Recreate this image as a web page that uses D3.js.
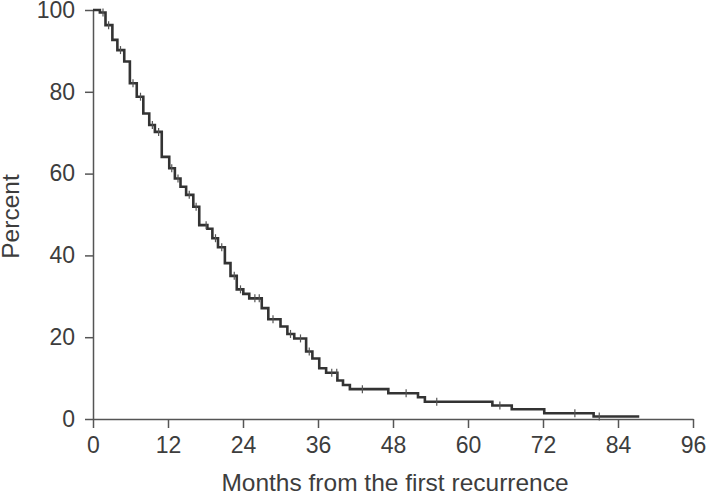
<!DOCTYPE html>
<html>
<head>
<meta charset="utf-8">
<script src="https://cdn.jsdelivr.net/npm/d3@7"></script>
<style>
  body { margin: 0; background: #fff; }
  .axis text { font-family: "Liberation Sans", Arial, sans-serif; font-size: 23px; fill: #3d3d3d; }
  .axis path, .axis line { stroke: #555; stroke-width: 1.5px; }
  .title { font-family: "Liberation Sans", Arial, sans-serif; font-size: 24.5px; fill: #3d3d3d; }
</style>
</head>
<body>
<svg class="chart"></svg>
<script>
// step times (months) and survival (%) after each step
var stepMonths = [0, 1.1, 2.0, 3.1, 3.9, 5.0, 5.9, 7.0, 8.05, 9.0, 9.9, 11.0, 12.2, 13.1, 14.0, 14.9,
    16.05, 17.0, 18.3, 19.1, 20.0, 21.1, 22.0, 23.0, 24.05, 25.0, 27.0, 28.05, 30.0, 31.1, 32.2,
    34.1, 35.1, 36.2, 37.3, 39.1, 40.0, 41.1, 47.25, 52.0, 53.1, 63.9, 67.0, 72.2, 80.1];
var stepPercent = [100, 99.4, 96.3, 92.7, 90.2, 87.4, 82.1, 78.8, 74.7, 71.9, 70.2, 64.1, 61.3, 58.8, 56.8, 54.8,
    51.9, 47.4, 46.5, 44.2, 42.0, 38.1, 35.0, 31.7, 30.6, 29.5, 27.1, 24.4, 22.6, 20.8, 19.7,
    16.5, 14.8, 12.4, 11.3, 9.4, 8.3, 7.3, 6.3, 5.3, 4.2, 3.3, 2.4, 1.4, 0.6];
var lastMonth = 87.4;

// censored observations (months)
var censorMonths = [1.6, 2.5, 4.4, 6.4, 7.6, 9.5, 10.5, 12.6, 13.6, 15.4, 16.5, 18.1, 19.6, 20.6,
    22.6, 23.6, 25.9, 26.6, 28.8, 31.6, 33.2, 34.6, 38.2, 39.0, 43.1, 50.1, 55.0, 65.1, 77.1, 81.0];

var xTicks = [0, 12, 24, 36, 48, 60, 72, 84, 96];
var yTicks = [0, 20, 40, 60, 80, 100];

var width = 708;
var height = 495;
var margin = {left: 93, right: 15, top: 10, bottom: 76};

var chart = d3.select(".chart")
    .attr("width", width)
    .attr("height", height);

var x = d3.scaleLinear().domain([0, 96]).range([margin.left, width - margin.right]);
var y = d3.scaleLinear().domain([0, 100]).range([height - margin.bottom, margin.top]);

chart.append("g")
    .attr("class", "axis")
    .attr("transform", "translate(0," + y(0) + ")")
    .call(d3.axisBottom(x).tickValues(xTicks).tickSize(9).tickSizeOuter(0).tickPadding(9));

chart.append("g")
    .attr("class", "axis")
    .attr("transform", "translate(" + x(0) + ",0)")
    .call(d3.axisLeft(y).tickValues(yTicks).tickSize(8).tickSizeOuter(0).tickPadding(10));

// survival at a given time
function survAt(t) {
    var i = d3.bisectRight(stepMonths, t) - 1;
    return stepPercent[Math.max(i, 0)];
}

var pts = stepMonths.map(function(t, i) { return [t, stepPercent[i]]; });
pts.push([lastMonth, stepPercent[stepPercent.length - 1]]);

var line = d3.line()
    .x(function(d) { return x(d[0]); })
    .y(function(d) { return y(d[1]); })
    .curve(d3.curveStepAfter);

chart.append("path")
    .datum(pts)
    .attr("fill", "none")
    .attr("stroke", "#333")
    .attr("stroke-width", 2.6)
    .attr("d", line);

chart.selectAll("line.censor")
    .data(censorMonths)
    .enter()
    .append("line")
    .attr("class", "censor")
    .attr("x1", function(d) { return x(d); })
    .attr("x2", function(d) { return x(d); })
    .attr("y1", function(d) { return y(survAt(d)) - 4; })
    .attr("y2", function(d) { return y(survAt(d)) + 4; })
    .attr("stroke", "#555")
    .attr("stroke-width", 1.2);

chart.append("text")
    .attr("class", "title")
    .attr("x", (x(0) + x(96)) / 2 + 2)
    .attr("y", 491)
    .attr("text-anchor", "middle")
    .text("Months from the first recurrence");

chart.append("text")
    .attr("class", "title")
    .attr("transform", "translate(19," + (y(50) + 2) + ") rotate(-90)")
    .attr("text-anchor", "middle")
    .text("Percent");
</script>
</body>
</html>
